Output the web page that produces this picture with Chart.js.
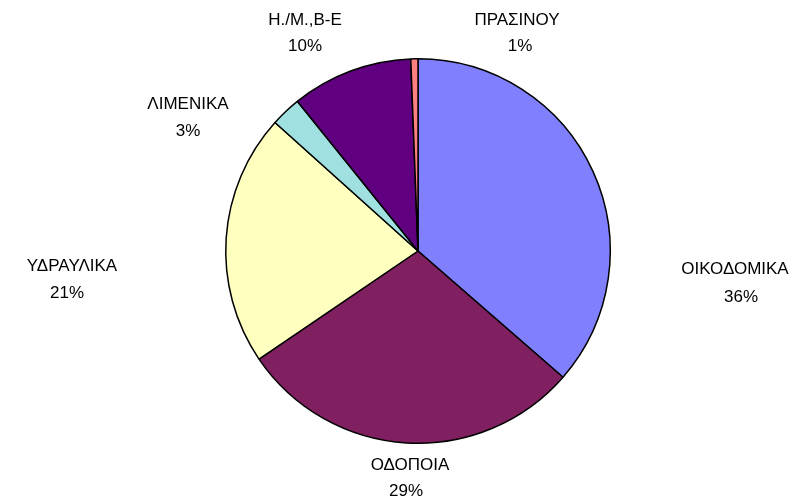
<!DOCTYPE html>
<html>
<head>
<meta charset="utf-8">
<script src="https://cdn.jsdelivr.net/npm/chart.js@4/dist/chart.umd.min.js"></script>
<style>
html,body{margin:0;padding:0;background:#fff;}
#wrap{width:798px;height:501px;position:relative;}
</style>
</head>
<body>
<div id="wrap"><canvas id="c" width="798" height="501"></canvas></div>
<script>
const categories = ["ΟΙΚΟΔΟΜΙΚΑ", "ΟΔΟΠΟΙΑ", "ΥΔΡΑΥΛΙΚΑ", "ΛΙΜΕΝΙΚΑ", "Η./Μ.,Β-Ε", "ΠΡΑΣΙΝΟΥ"];
const values = [36.4, 29.1, 21.15, 2.55, 10.2, 0.6];
const colors = ["#8080FF", "#802060", "#FFFFC0", "#A0E0E0", "#600080", "#FF8080"];

// label anchor offsets from pie centre (px): [nameX, nameY, pctX, pctY]
const labelOffsets = [
  [317, 18, 323, 46],
  [-8, 214, -12, 240],
  [-346, 15, -351, 42],
  [-230, -147, -230, -120],
  [-113, -231, -113, -205],
  [99, -231, 102, -205]
];

const labelPlugin = {
  id: 'outerLabels',
  afterDraw(chart) {
    const meta = chart.getDatasetMeta(0);
    const arc = meta.data[0];
    const cx = arc.x, cy = arc.y;
    const total = values.reduce((a, b) => a + b, 0);
    const ctx = chart.ctx;
    ctx.save();
    ctx.fillStyle = '#000';
    ctx.textAlign = 'center';
    ctx.textBaseline = 'middle';
    ctx.font = '17px "Liberation Sans", Arial, sans-serif';
    categories.forEach((name, i) => {
      const o = labelOffsets[i];
      ctx.fillText(name, cx + o[0], cy + o[1]);
      const pct = Math.round(values[i] / total * 100) + '%';
      ctx.fillText(pct, cx + o[2], cy + o[3]);
    });
    ctx.restore();
  }
};

new Chart(document.getElementById('c'), {
  type: 'pie',
  data: {
    labels: categories,
    datasets: [{
      data: values,
      backgroundColor: colors,
      borderColor: '#000',
      borderWidth: 1.5,
      borderAlign: 'center'
    }]
  },
  options: {
    responsive: false,
    animation: false,
    layout: { padding: { top: 58, bottom: 57, left: 225, right: 187 } },
    plugins: {
      legend: { display: false },
      tooltip: { enabled: false },
      title: { display: false }
    }
  },
  plugins: [labelPlugin]
});
</script>
</body>
</html>
